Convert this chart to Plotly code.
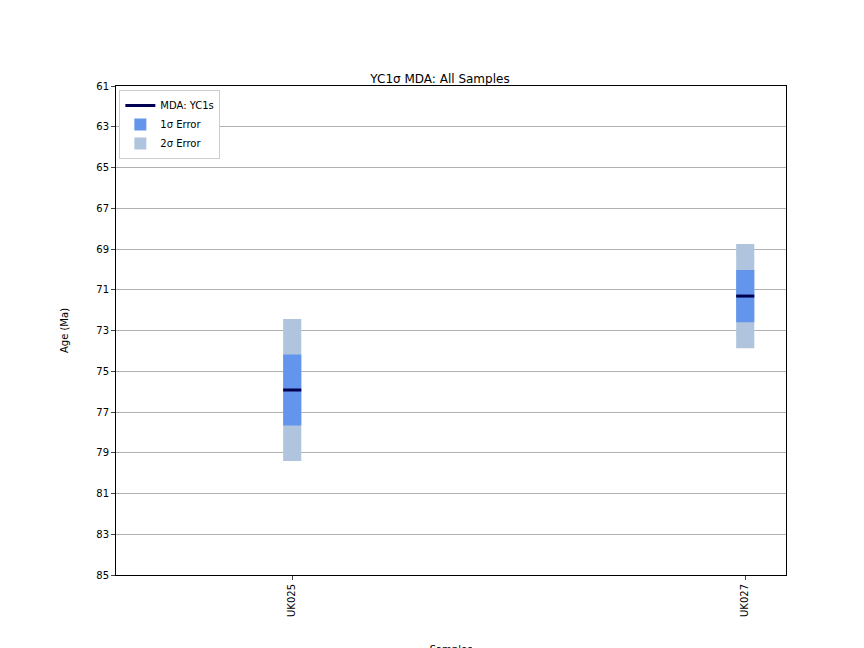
import plotly.graph_objects as go

samples = ["UK025", "UK027"]
mda_ages = [75.92, 71.31]
err_1s = [1.74, 1.28]
err_2s = [3.48, 2.56]

positions = list(range(len(samples)))
bar_w = 0.04

fig = go.Figure()

fig.add_trace(go.Bar(
    x=positions, y=[2 * e for e in err_2s],
    base=[m - e for m, e in zip(mda_ages, err_2s)],
    width=bar_w, marker=dict(color="#b0c4de", line=dict(width=0)),
    name="2σ Error", legendrank=3,
))
fig.add_trace(go.Bar(
    x=positions, y=[2 * e for e in err_1s],
    base=[m - e for m, e in zip(mda_ages, err_1s)],
    width=bar_w, marker=dict(color="#6495ed", line=dict(width=0)),
    name="1σ Error", legendrank=2,
))

lx, ly = [], []
for p, m in zip(positions, mda_ages):
    lx += [p - bar_w / 2, p + bar_w / 2, None]
    ly += [m, m, None]
fig.add_trace(go.Scatter(
    x=lx, y=ly, mode="lines", line=dict(color="#000050", width=3),
    name="MDA: YC1s", legendrank=1,
))

fig.update_layout(
    width=864, height=648,
    paper_bgcolor="white", plot_bgcolor="white",
    barmode="overlay",
    font=dict(family="DejaVu Sans", size=10, color="black"),
    title=dict(text="YC1σ MDA: All Samples", x=0.5, xanchor="center",
               y=0.885, yanchor="bottom", font=dict(size=12)),
    margin=dict(l=108, r=86, t=78, b=81, autoexpand=False),
    showlegend=True,
    legend=dict(x=0.005, y=0.992, xanchor="left", yanchor="top",
                bgcolor="white", bordercolor="#cccccc", borderwidth=1,
                font=dict(size=10), tracegroupgap=0, itemwidth=30),
    xaxis=dict(
        range=[-0.389, 1.09], tickvals=positions, ticktext=samples,
        tickangle=-90, showgrid=False, zeroline=False,
        showline=True, mirror=True, linecolor="black", linewidth=1,
        ticks="outside", ticklen=4,
        title=dict(text="Samples", standoff=30, font=dict(size=10)),
    ),
    yaxis=dict(
        range=[85, 61], tickvals=list(range(61, 86, 2)),
        showgrid=True, gridcolor="#b0b0b0", gridwidth=1, zeroline=False,
        showline=True, mirror=True, linecolor="black", linewidth=1,
        ticks="outside", ticklen=4,
        title=dict(text="Age (Ma)", standoff=25, font=dict(size=10)),
    ),
)

fig.write_html("out.html")
